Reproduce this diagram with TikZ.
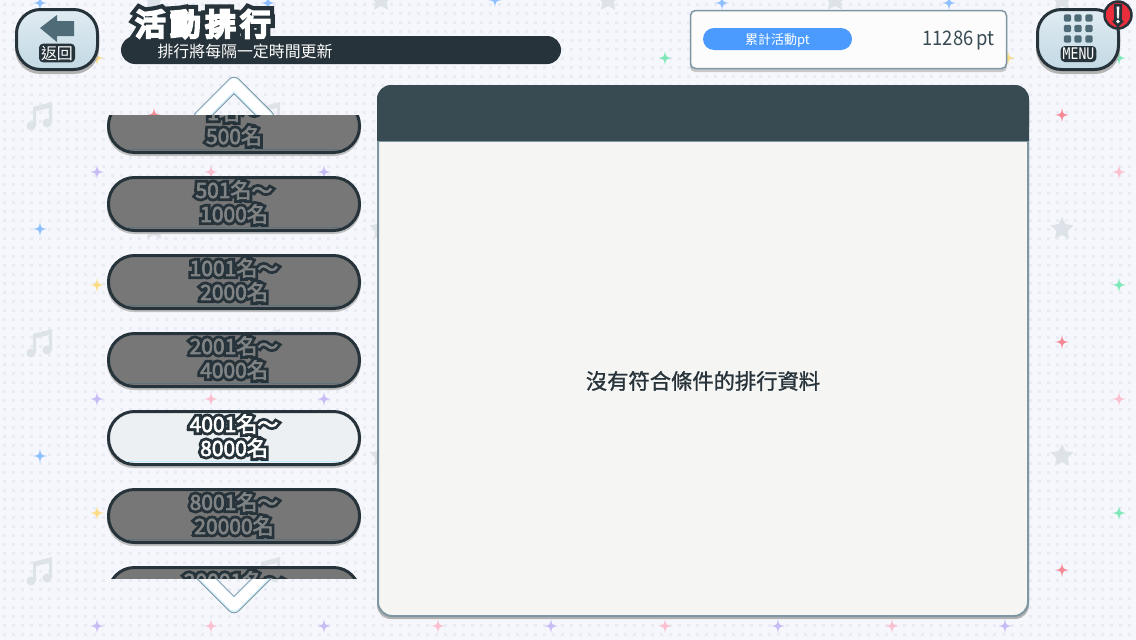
\documentclass[tikz,border=0pt]{standalone}
\usepackage{fontspec}
\setmainfont{Noto Sans CJK TC}
\newfontfamily\rankthick{Noto Sans CJK TC}[FakeBold=30]
\newfontfamily\rankfat{Noto Sans CJK TC}[FakeBold=3]
\newfontfamily\titlethick{Noto Sans CJK TC}[FakeBold=38]
\newfontfamily\titlefat{Noto Sans CJK TC}[FakeBold=10]
\newfontfamily\msgfat{Noto Sans CJK TC}[FakeBold=1.2]
\newfontfamily\narrowfont{Noto Sans CJK TC}[FakeStretch=.92]
\newfontfamily\menufont{DejaVu Sans Mono}[FakeStretch=.82]
\definecolor{pagebg}{HTML}{F6F7FC}
\definecolor{griddot}{HTML}{E9ECF4}
\definecolor{ink}{HTML}{27333A}
\definecolor{edge}{HTML}{7E97A3}
\definecolor{headbar}{HTML}{384A52}
\definecolor{sheet}{HTML}{F5F5F3}
\definecolor{rankgray}{HTML}{777777}
\definecolor{ranktext}{HTML}{808384}
\definecolor{ranksel}{HTML}{EDF0F3}
\definecolor{btntop}{HTML}{E0EBF1}
\definecolor{btnlow}{HTML}{C2D9E4}
\definecolor{arrowgray}{HTML}{4F6B78}
\definecolor{faint}{HTML}{DDE3E9}
\definecolor{sblue}{HTML}{8FC0FF}
\definecolor{sred}{HTML}{F58A96}
\definecolor{spink}{HTML}{FBC0D0}
\definecolor{spurple}{HTML}{C8BCF5}
\definecolor{syellow}{HTML}{FBDD88}
\definecolor{sgreen}{HTML}{7FE8B8}
\newcommand{\hollow}[3]{\leavevmode\rlap{\color{#1}\rankthick #3}{\color{#2}\rankfat #3}}
\tikzset{
  rankbtn/.style={draw=ink,line width=3pt,rounded corners=26pt},
  rankshadow/.style={fill=black!25,rounded corners=27pt},
  ranklabel/.style={align=center,inner sep=0pt,font=\fontsize{21}{24}\selectfont},
  roundbtn/.style={draw=ink,line width=3pt,rounded corners=24pt,top color=btntop,bottom color=btnlow},
  tagbox/.style={fill=ink,rounded corners=4pt},
}
\begin{document}
\begin{tikzpicture}[x=1pt,y=-1pt]
\useasboundingbox (0,0) rectangle (1136,640);
%background
\fill[pagebg] (0,0) rectangle (1136,640);
\foreach \y in {4,13,...,639}
{\draw[griddot,line width=3pt,dash pattern=on 3pt off 6pt] (3,\y)--(1136,\y);}
%music notes
\foreach \x/\y in {40/115,40/342,40/570,268/115,268/342,268/570}
{\fill[faint,shift={(\x,\y)}] (-7,-8)--(12,-13)--(12,8)--(9,8)--(9,-7)--(-4,-4)--(-4,11)--(-7,11)--cycle;
\fill[faint,shift={(\x,\y)}] (-9,11) circle (4.5) (7,8) circle (4.5);}
%stars
\foreach \x/\y in {154/0,381/0,608/0,835/0,1062/0,154/229,381/229,1062/229,381/456,1062/456}
{\fill[faint,shift={(\x,\y)}] (-90:12)--(-54:6)--(-18:12)--(18:6)--(54:12)--(90:6)--(126:12)--(162:6)--(198:12)--(234:6)--cycle;}
%sparkles
\foreach \x/\y/\c in {40/3/sblue,268/3/sblue,495/0/sblue,722/3/sblue,949/3/sblue,
  97/58/syellow,665/58/sgreen,892/58/sgreen,1008/58/syellow,1119/58/sgreen,
  154/115/sred,1062/115/sred,97/172/spurple,211/172/spink,324/172/spurple,1119/172/spink,
  40/229/sblue,97/285/syellow,1119/285/sgreen,1062/342/sred,
  97/399/spurple,211/399/spink,324/399/spurple,1119/399/spink,
  40/456/sblue,97/513/syellow,1119/513/sgreen,1062/570/sred,
  97/626/spurple,211/626/spink,324/626/spurple,438/626/spink,551/626/spurple,
  665/626/spink,778/626/spurple,892/626/spink,1005/626/spurple}
{\fill[\c,shift={(\x,\y)}] (0,-7) .. controls (1,-1) .. (7,0) .. controls (1,1) .. (0,7) .. controls (-1,1) .. (-7,0) .. controls (-1,-1) .. cycle;}
%panel
\fill[black!30,rounded corners=14pt] (377,90) rectangle (1029,619);
\draw[edge,line width=2pt,fill=sheet,rounded corners=14pt] (378,86) rectangle (1028,616);
\fill[headbar,rounded corners=14pt] (377,141)--(377,85)--(1029,85)--(1029,141)--cycle;
\fill[headbar] (377,125) rectangle (1029,141);
\draw[edge,line width=1pt] (377,141.5)--(1029,141.5);
\node[inner sep=0pt,text=ink,font=\fontsize{21.3}{24}\msgfat] (emptymsg) at (703,381) {沒有符合條件的排行資料};
%chevrons
\begin{scope}
\clip (180,60) rectangle (290,115);
\draw[edge,line width=14.5pt,line join=round,line cap=round] (201,117)--(234,84)--(267,117);
\draw[cyan!18!white,line width=12.5pt,line join=round,line cap=round] (201,117)--(234,84)--(267,117);
\draw[white,line width=10.5pt,line join=round,line cap=round] (201,116.5)--(234,83.5)--(267,116.5);
\end{scope}
\begin{scope}
\clip (180,578) rectangle (290,630);
\draw[edge,line width=14.5pt,line join=round] (190,562)--(234,606)--(278,562);
\draw[cyan!18!white,line width=12.5pt,line join=round] (190,562)--(234,606)--(278,562);
\draw[white,line width=10.5pt,line join=round] (190,561.5)--(234,605.5)--(278,561.5);
\end{scope}
%rank list
\begin{scope}
\clip (100,115) rectangle (368,578);
\foreach \n/\y/\a/\b in {r1/98/1名～/500名,r2/176/501名～/1000名,r3/254/1001名～/2000名,r4/332/2001名～/4000名,r6/488/8001名～/20000名,r7/566/20001名～/{}}
{\fill[rankshadow] (107,\y+3) rectangle (361,\y+58);
\draw[rankbtn,fill=rankgray] (108.5,\y+1.5) rectangle (359.5,\y+54.5);
\draw[edge!75!black,line width=1.5pt] (126,\y+51.5)--(342,\y+51.5);
\node[ranklabel] (\n) at (234,\y+26) {\hollow{ink}{ranktext}{\a}\\\hollow{ink}{ranktext}{\b}};}
\fill[rankshadow] (107,413) rectangle (361,468);
\draw[rankbtn,fill=ranksel] (108.5,411.5) rectangle (359.5,464.5);
\draw[cyan!25!white,line width=1.5pt] (126,461.5)--(342,461.5);
\node[ranklabel] (r5) at (234,436) {\hollow{ink}{white}{4001名～}\\\hollow{ink}{white}{8000名}};
\end{scope}
%back button
\fill[black!30,rounded corners=25pt] (15,11) rectangle (99,74);
\draw[roundbtn] (16.5,9.5) rectangle (97.5,69.5);
\fill[arrowgray] (40,28)--(57,15)--(57,21)--(74,21)--(74,36)--(57,36)--(57,42)--cycle;
\node[tagbox,inner sep=2pt,text=white,font=\fontsize{16}{17}\selectfont] (backlabel) at (57,53) {返回};
%title
\fill[ink,rounded corners=14pt] (121,36) rectangle (561,64);
\node[inner sep=0pt,font=\fontsize{30}{32}\selectfont] (title) at (203,24) {\leavevmode\rlap{\color{ink}\titlethick 活\,動\,排\,行}{\color{white}\titlefat 活\,動\,排\,行}};
\node[inner sep=0pt,text=white,font=\fontsize{15.9}{18}\selectfont] (subtitle) at (245,51) {排行將每隔一定時間更新};
%points box
\fill[black!22,rounded corners=5pt] (690,13) rectangle (1007,72);
\draw[edge,line width=1.5pt,fill=white!98!gray,rounded corners=5pt] (690.5,10.5) rectangle (1006.5,68.5);
\node[fill={rgb,255:red,75;green,155;blue,255},rounded corners=11pt,minimum width=149pt,minimum height=22pt,inner sep=0pt,text=white,font=\fontsize{13}{14}\selectfont] (ptstag) at (777.5,39) {\raisebox{-2pt}[.8em][.2em]{累計活動pt}};
\node[inner sep=0pt,anchor=east,text=headbar,font=\fontsize{20}{20}\narrowfont] (ptsvalue) at (995,41) {11286\,pt};
%menu button
\fill[black!30,rounded corners=25pt] (1036,11) rectangle (1120,74);
\draw[roundbtn] (1037.5,9.5) rectangle (1118.5,69.5);
\foreach \x in {1067.5,1078,1089}
{\foreach \y in {18,28.5,39}
{\fill[arrowgray,rounded corners=1.5pt] (\x-3.7,\y-3.7) rectangle (\x+3.7,\y+3.7);}}
\node[tagbox,inner xsep=2pt,inner ysep=0pt,minimum height=16pt,text=white,font=\fontsize{16}{16}\menufont] (menulabel) at (1078.5,54) {MENU};
\node[circle,draw=ink,line width=2.5pt,fill={rgb,255:red,235;green,45;blue,60},minimum size=27pt,inner sep=0pt,font=\fontsize{21}{21}\selectfont] (alert) at (1118,15) {\hollow{ink}{white}{!}};
\end{tikzpicture}
\end{document}
